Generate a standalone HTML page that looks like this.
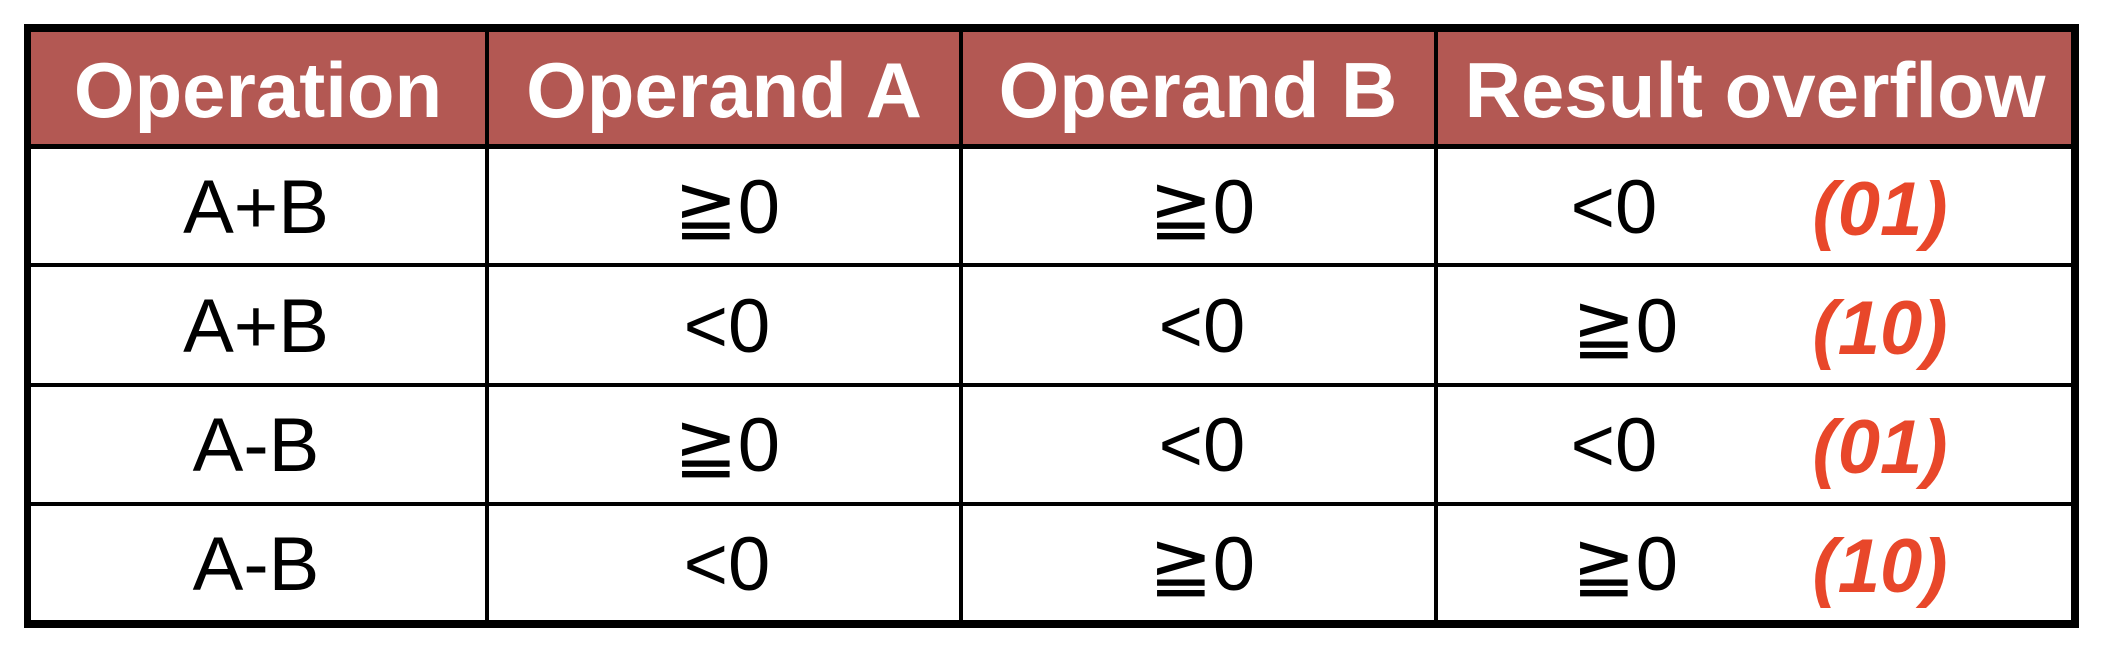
<!DOCTYPE html>
<html><head><meta charset="utf-8"><style>
html,body{margin:0;padding:0;background:#fff;}
#wrap{position:relative;width:2120px;height:646px;overflow:hidden;background:#fff;font-family:"Liberation Sans","DejaVu Sans",sans-serif;}
.ln{position:absolute;background:#000;}
.hdr{position:absolute;background:#b35853;}
.t{position:absolute;white-space:nowrap;line-height:1;transform:translate(-50%,-50%);}
.h{color:#fff;font-weight:bold;font-size:78px;}
.b{color:#000;font-size:76px;}
.r{color:#e8472a;font-weight:bold;font-style:italic;font-size:76px;}
</style></head><body>
<div id="wrap">
<div class="hdr" style="left:28px;top:28px;width:2047px;height:118px;"></div>
<div class="ln" style="left:24px;top:24px;width:2055px;height:8px;"></div>
<div class="ln" style="left:24px;top:620px;width:2055px;height:8px;"></div>
<div class="ln" style="left:24px;top:24px;width:7px;height:604px;"></div>
<div class="ln" style="left:2071px;top:24px;width:8px;height:604px;"></div>
<div class="ln" style="left:24px;top:144px;width:2055px;height:5px;"></div>
<div class="ln" style="left:24px;top:263px;width:2055px;height:4px;"></div>
<div class="ln" style="left:24px;top:383px;width:2055px;height:4px;"></div>
<div class="ln" style="left:24px;top:502px;width:2055px;height:4px;"></div>
<div class="ln" style="left:485px;top:24px;width:4px;height:604px;"></div>
<div class="ln" style="left:959px;top:24px;width:4px;height:604px;"></div>
<div class="ln" style="left:1434px;top:24px;width:4px;height:604px;"></div>

<div class="t h" style="left:258px;top:90px;">Operation</div>
<div class="t h" style="left:724px;top:90px;">Operand A</div>
<div class="t h" style="left:1198px;top:90px;">Operand B</div>
<div class="t h" style="left:1755px;top:90px;">Result overflow</div>

<div class="t b" style="left:256px;top:208px;">A+B</div>
<div class="t b" style="left:727px;top:208px;">≧0</div>
<div class="t b" style="left:1202px;top:208px;">≧0</div>
<div class="t b" style="left:1614px;top:208px;">&lt;0</div>
<div class="t r" style="left:1880px;top:210px;">(01)</div>

<div class="t b" style="left:256px;top:327px;">A+B</div>
<div class="t b" style="left:727px;top:327px;">&lt;0</div>
<div class="t b" style="left:1202px;top:327px;">&lt;0</div>
<div class="t b" style="left:1625px;top:327px;">≧0</div>
<div class="t r" style="left:1880px;top:329px;">(10)</div>

<div class="t b" style="left:256px;top:446px;">A-B</div>
<div class="t b" style="left:727px;top:446px;">≧0</div>
<div class="t b" style="left:1202px;top:446px;">&lt;0</div>
<div class="t b" style="left:1614px;top:446px;">&lt;0</div>
<div class="t r" style="left:1880px;top:448px;">(01)</div>

<div class="t b" style="left:256px;top:565px;">A-B</div>
<div class="t b" style="left:727px;top:565px;">&lt;0</div>
<div class="t b" style="left:1202px;top:565px;">≧0</div>
<div class="t b" style="left:1625px;top:565px;">≧0</div>
<div class="t r" style="left:1880px;top:567px;">(10)</div>
</div>
</body></html>
